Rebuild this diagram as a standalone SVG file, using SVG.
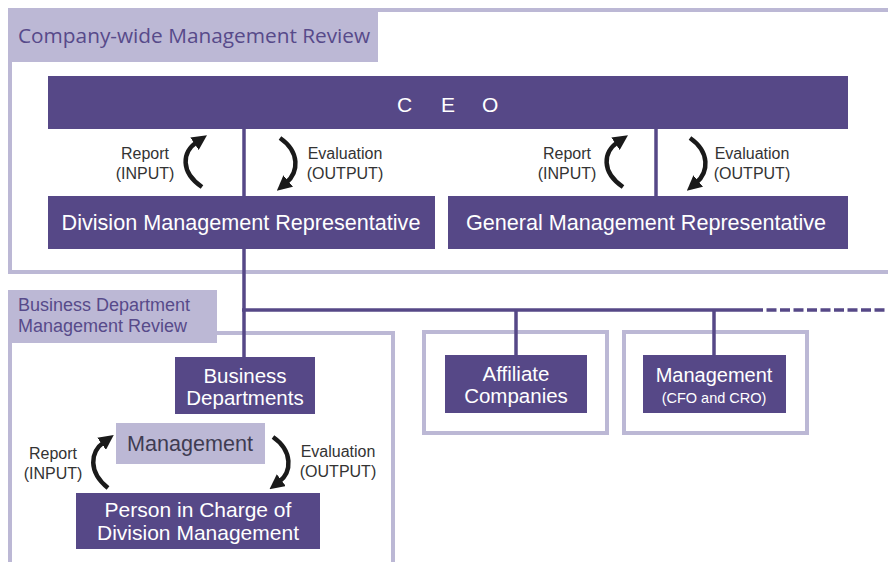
<svg xmlns="http://www.w3.org/2000/svg" width="888" height="562" viewBox="0 0 888 562">
<defs>
<style>
.frame{fill:none;stroke:#bcb8d5;stroke-width:4}
.tab{fill:#bcb8d5}
.box{fill:#564887}
.lbox{fill:#bcb8d5}
.wt{fill:#ffffff;font-family:"Liberation Sans",Arial,sans-serif;font-size:21.6px;text-anchor:middle}
.wt2{fill:#ffffff;font-family:"Liberation Sans",Arial,sans-serif;font-size:20.5px;text-anchor:middle}
.tabt{fill:#574a8a;font-family:"Liberation Sans",Arial,sans-serif;font-size:18px}
.sm{fill:#333333;font-family:"Liberation Sans",Arial,sans-serif;font-size:16px;text-anchor:middle}
.conn{stroke:#564887;stroke-width:3.5;fill:none}
.arr{stroke:#1a1a1a;stroke-width:4.5;fill:none;marker-end:url(#ah)}
</style>
<marker id="ah" markerUnits="userSpaceOnUse" markerWidth="15" markerHeight="15" viewBox="0 0 15 15" refX="3" refY="7.5" orient="auto">
<path d="M0,0 L15,7.5 L0,15 Z" fill="#1a1a1a"/>
</marker>
</defs>
<rect width="888" height="562" fill="#ffffff"/>

<g id="frame-company">
<path class="frame" d="M888,10 H10 V272 H888"/>
<rect class="tab" x="8" y="8" width="370" height="54"/>
<text x="18" y="43" fill="#574a8a" font-family="'Open Sans','Liberation Sans',sans-serif" font-size="20.8">Company-wide Management Review</text>
</g>

<g id="frame-business">
<path class="frame" d="M10,343 V562 M217,333 H393 V562"/>
<rect class="tab" x="8" y="290" width="209" height="53"/>
<text class="tabt" x="18" y="311">Business Department</text>
<text class="tabt" x="18" y="332">Management Review</text>
</g>

<g id="frame-affiliate">
<rect class="frame" x="424" y="332" width="183" height="101"/>
</g>
<g id="frame-mgmt">
<rect class="frame" x="624" y="332" width="183" height="101"/>
</g>

<g id="connectors">
<line class="conn" x1="244" y1="129" x2="244" y2="196"/>
<line class="conn" x1="244" y1="249" x2="244" y2="357"/>
<line class="conn" x1="656" y1="129" x2="656" y2="196"/>
<line class="conn" x1="242" y1="310" x2="753" y2="310"/>
<line class="conn" x1="753" y1="310" x2="888" y2="310" stroke-dasharray="10 3.5"/>
<line class="conn" x1="516" y1="310" x2="516" y2="355"/>
<line class="conn" x1="714" y1="310" x2="714" y2="355"/>
<path class="arr" d="M202,187 C180,172 182,152 197,142"/>
<path class="arr" d="M280,138 C300,152 299,172 286,183"/>
<path class="arr" d="M623,187 C601,172 603,152 618,142"/>
<path class="arr" d="M690,138 C710,152 709,172 696,183"/>
<path class="arr" d="M108,488 C88,472 90,452 104,442"/>
<path class="arr" d="M273,437 C293,451 292,472 279,482"/>
</g>

<g id="ceo">
<rect class="box" x="48" y="76" width="800" height="53"/>
<text fill="#ffffff" font-family="'Liberation Sans',Arial,sans-serif" font-size="21" x="397 420 441 462 482" y="112">C E O</text>
</g>

<g id="label-report-1"><text class="sm" x="145" y="159">Report</text><text class="sm" x="145" y="179">(INPUT)</text></g>
<g id="label-eval-1"><text class="sm" x="345" y="159">Evaluation</text><text class="sm" x="345" y="179">(OUTPUT)</text></g>
<g id="label-report-2"><text class="sm" x="567" y="159">Report</text><text class="sm" x="567" y="179">(INPUT)</text></g>
<g id="label-eval-2"><text class="sm" x="752" y="159">Evaluation</text><text class="sm" x="752" y="179">(OUTPUT)</text></g>

<g id="dmr">
<rect class="box" x="48" y="196" width="387" height="53"/>
<text class="wt" x="241" y="230">Division Management Representative</text>
</g>
<g id="gmr">
<rect class="box" x="448" y="196" width="400" height="53"/>
<text class="wt" x="646" y="230">General Management Representative</text>
</g>

<g id="business-departments">
<rect class="box" x="175" y="357" width="140" height="57"/>
<text class="wt2" x="245" y="383">Business</text>
<text class="wt2" x="245" y="405">Departments</text>
</g>
<g id="affiliate">
<rect class="box" x="445" y="355" width="142" height="58"/>
<text class="wt2" x="516" y="381">Affiliate</text>
<text class="wt2" x="516" y="403">Companies</text>
</g>
<g id="management-cfo">
<rect class="box" x="643" y="355" width="143" height="58"/>
<text class="wt" x="714" y="382" style="font-size:20px">Management</text>
<text class="wt" x="714" y="403" style="font-size:14.5px">(CFO and CRO)</text>
</g>

<g id="management">
<rect class="lbox" x="116" y="423" width="149" height="41"/>
<text class="wt" x="190" y="451" style="fill:#3f3c52">Management</text>
</g>
<g id="label-report-3"><text class="sm" x="53" y="459">Report</text><text class="sm" x="53" y="479">(INPUT)</text></g>
<g id="label-eval-3"><text class="sm" x="338" y="457">Evaluation</text><text class="sm" x="338" y="477">(OUTPUT)</text></g>

<g id="person">
<rect class="box" x="76" y="493" width="244" height="56"/>
<text class="wt" x="198" y="517" style="font-size:21px">Person in Charge of</text>
<text class="wt" x="198" y="540" style="font-size:21px">Division Management</text>
</g>
</svg>
